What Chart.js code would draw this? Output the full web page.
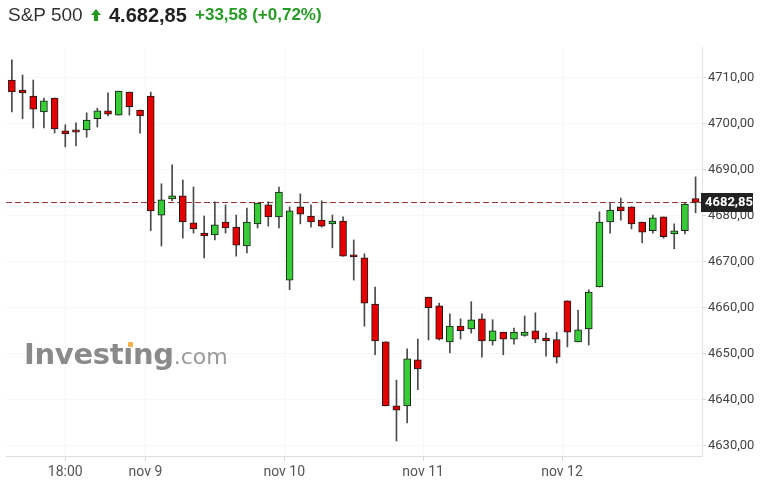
<!DOCTYPE html>
<html>
<head>
<meta charset="utf-8">
<script src="https://cdn.jsdelivr.net/npm/chart.js@4.4.0/dist/chart.umd.min.js"></script>
<style>
  html, body { margin: 0; padding: 0; background: #fff; }
  #wrap { position: relative; width: 781px; height: 495px; overflow: hidden; }
  #c { position: absolute; left: 0; top: 0; }
  .hd { position: absolute; top: 2px; line-height: 26px; white-space: nowrap;
        font-family: "Liberation Sans", Arial, sans-serif; }
  #name { left: 8px; font-size: 19px; color: #333; }
  #arrow { position: absolute; left: 91px; top: 9px; }
  #last { left: 109px; font-size: 20px; font-weight: bold; color: #222; }
  #chg { left: 195px; font-size: 17px; font-weight: bold; color: #259b24; }
  #logo { position: absolute; left: 24px; top: 336px; line-height: 36px; white-space: nowrap; }
  #logo b { font-family: "DejaVu Sans", sans-serif; font-size: 29px; font-weight: bold; color: #8a8a8a;
            letter-spacing: -0.3px; }
  #logo span { font-family: "DejaVu Sans", sans-serif; font-size: 22px; color: #9a9a9a; }
  #dot { position: absolute; left: 128px; top: 342px; width: 5px; height: 5px;
         border-radius: 1px; background: #f6b04a; }
</style>
</head>
<body>
<div id="wrap">
  <canvas id="c" width="781" height="495"></canvas>
  <div class="hd" id="name">S&amp;P 500</div>
  <svg id="arrow" width="10" height="12" viewBox="0 0 10 12">
    <polygon points="5,0 10,6 7,6 7,12 3,12 3,6 0,6" fill="#1f9a1f"/>
  </svg>
  <div class="hd" id="last">4.682,85</div>
  <div class="hd" id="chg">+33,58 (+0,72%)</div>
  <div id="logo"><b>Investıng</b><span>.com</span></div>
  <div id="dot"></div>
</div>
<script>
// 30-minute candles, nov 8 - nov 12 (13 per session)
var opens = [4709.4, 4707.2, 4705.9, 4702.5, 4705.5, 4698.4, 4698.6, 4698.6, 4701.0, 4702.7, 4701.8, 4706.8, 4702.9,
             4705.9, 4680.1, 4683.6, 4684.3, 4678.4, 4676.2, 4675.8, 4678.6, 4677.5, 4673.4, 4678.2, 4682.3, 4679.7,
             4666.0, 4681.9, 4679.9, 4679.0, 4678.2, 4678.8, 4671.5, 4670.8, 4660.8, 4652.6, 4638.7, 4638.7, 4648.7,
             4662.3, 4660.4, 4652.6, 4656.0, 4655.4, 4657.6, 4652.8, 4654.7, 4653.2, 4654.0, 4655.0, 4653.4, 4653.1,
             4661.5, 4652.6, 4655.4, 4664.5, 4678.6, 4681.9, 4681.9, 4678.6, 4676.7, 4679.7, 4676.0, 4676.7, 4683.7];
var highs = [4713.8, 4710.5, 4709.4, 4705.5, 4705.5, 4699.7, 4700.1, 4702.3, 4703.3, 4706.6, 4707.0, 4706.8, 4702.9,
             4706.8, 4686.9, 4691.0, 4687.7, 4686.2, 4679.9, 4683.0, 4682.3, 4680.1, 4681.6, 4682.7, 4683.0, 4686.2,
             4681.9, 4684.7, 4682.3, 4683.2, 4680.1, 4679.7, 4674.7, 4671.7, 4664.5, 4652.6, 4644.3, 4651.1, 4653.2,
             4662.3, 4661.0, 4658.7, 4657.6, 4661.3, 4658.7, 4657.4, 4654.7, 4655.6, 4658.2, 4658.9, 4654.5, 4654.7,
             4661.5, 4659.5, 4663.9, 4680.8, 4682.7, 4683.8, 4681.9, 4678.6, 4680.1, 4679.7, 4678.2, 4682.7, 4688.4];
var lows = [4702.5, 4701.0, 4699.0, 4699.0, 4697.9, 4694.9, 4695.1, 4697.0, 4699.2, 4701.6, 4701.8, 4701.8, 4697.9,
            4676.7, 4673.4, 4683.2, 4675.1, 4676.2, 4670.8, 4674.7, 4676.2, 4671.2, 4671.9, 4677.3, 4677.7, 4677.3,
            4663.9, 4678.2, 4677.5, 4677.5, 4673.0, 4671.2, 4666.0, 4656.0, 4649.8, 4638.7, 4631.1, 4635.0, 4642.2,
            4653.0, 4653.0, 4650.2, 4653.2, 4654.5, 4649.3, 4651.9, 4649.8, 4652.1, 4653.8, 4652.4, 4649.5, 4648.0,
            4651.5, 4652.6, 4651.9, 4664.5, 4676.2, 4679.0, 4677.1, 4674.1, 4676.2, 4675.1, 4672.8, 4676.0, 4680.6];
var closes = [4706.8, 4706.6, 4703.1, 4704.9, 4698.8, 4697.7, 4698.1, 4700.7, 4702.7, 4702.0, 4707.0, 4703.6, 4701.6,
              4681.0, 4683.4, 4684.3, 4678.6, 4677.1, 4675.6, 4678.0, 4677.3, 4673.6, 4678.6, 4682.7, 4679.7, 4685.1,
              4681.0, 4680.3, 4678.6, 4677.7, 4678.8, 4671.2, 4671.0, 4661.0, 4652.8, 4638.7, 4637.8, 4648.9, 4646.7,
              4660.0, 4653.2, 4656.0, 4655.0, 4657.4, 4652.8, 4655.0, 4653.2, 4654.7, 4654.7, 4653.2, 4652.8, 4649.3,
              4654.7, 4655.2, 4663.4, 4678.6, 4681.2, 4681.0, 4678.2, 4676.4, 4679.5, 4675.4, 4676.7, 4682.5, 4682.85];

var timeTicks = [5, 12.5, 25.5, 38.5, 51.5];
var timeLabels = ['18:00', 'nov 9', 'nov 10', 'nov 11', 'nov 12'];
var priceTicks = [4630, 4640, 4650, 4660, 4670, 4680, 4690, 4700, 4710];
var lastPrice = 4682.85;

var UP = '#36cc36', DOWN = '#e50000';

function fmt(v) { return v.toFixed(2).replace('.', ','); }

var wicks = lows.map(function(l, i) { return { x: i, y: [l, highs[i]] }; });
var bodies = opens.map(function(o, i) { return { x: i, y: [o, closes[i]] }; });
var bodyColors = opens.map(function(o, i) { return closes[i] >= o ? UP : DOWN; });

// dashed last-price line and the dark price tag on the axis
var lastPricePlugin = {
  id: 'lastPrice',
  beforeDatasetsDraw: function(chart) {
    var ctx = chart.ctx, a = chart.chartArea;
    var y = Math.round(chart.scales.y.getPixelForValue(lastPrice)) + 0.5;
    ctx.save();
    ctx.strokeStyle = '#9e3535';
    ctx.lineWidth = 1;
    ctx.setLineDash([6, 3]);
    ctx.beginPath();
    ctx.moveTo(a.left, y);
    ctx.lineTo(a.right, y);
    ctx.stroke();
    ctx.restore();
  },
  afterDraw: function(chart) {
    var ctx = chart.ctx, a = chart.chartArea;
    var y = chart.scales.y.getPixelForValue(lastPrice);
    ctx.save();
    ctx.fillStyle = '#222';
    ctx.fillRect(a.right - 1, Math.round(y) - 9, 52, 19);
    ctx.fillStyle = '#fff';
    ctx.font = 'bold 13px Roboto';
    ctx.textBaseline = 'middle';
    ctx.fillText(fmt(lastPrice), a.right + 3, Math.round(y) + 1);
    ctx.restore();
  }
};

new Chart(document.getElementById('c'), {
  type: 'bar',
  data: {
    datasets: [{
      data: wicks,
      backgroundColor: '#4a4a4a',
      barThickness: 1,
      grouped: false,
      order: 2
    }, {
      data: bodies,
      backgroundColor: bodyColors,
      borderColor: '#1a1a1a',
      borderWidth: 1,
      borderSkipped: false,
      barThickness: 7,
      grouped: false,
      order: 1
    }]
  },
  options: {
    responsive: false,
    animation: false,
    layout: { padding: { left: 6, top: 47, right: 0, bottom: 0 } },
    plugins: { legend: { display: false }, tooltip: { enabled: false } },
    scales: {
      x: {
        type: 'linear',
        offset: false,
        min: -0.55,
        max: 64.6,
        afterBuildTicks: function(s) { s.ticks = timeTicks.map(function(v) { return { value: v }; }); },
        afterFit: function(s) { s.height = 39; },
        ticks: {
          autoSkip: false, maxRotation: 0, padding: 3,
          color: '#555', font: { family: 'Roboto', size: 14 },
          callback: function(v, i) { return timeLabels[i]; }
        },
        grid: { offset: false, color: '#f6f6f6', tickColor: '#d6d6d6', tickLength: 5 },
        border: { color: '#dedede' }
      },
      y: {
        position: 'right',
        min: 4627.83,
        max: 4716.57,
        afterBuildTicks: function(s) { s.ticks = priceTicks.map(function(v) { return { value: v }; }); },
        afterFit: function(s) { s.width = 79; },
        ticks: {
          padding: 2, color: '#444', font: { family: 'Roboto', size: 13 },
          callback: function(v) { return fmt(v); }
        },
        grid: { color: '#f7f7f7', tickColor: '#d6d6d6', tickLength: 4 },
        border: { color: '#e3e3e3' }
      }
    }
  },
  plugins: [lastPricePlugin]
});
</script>
</body>
</html>
